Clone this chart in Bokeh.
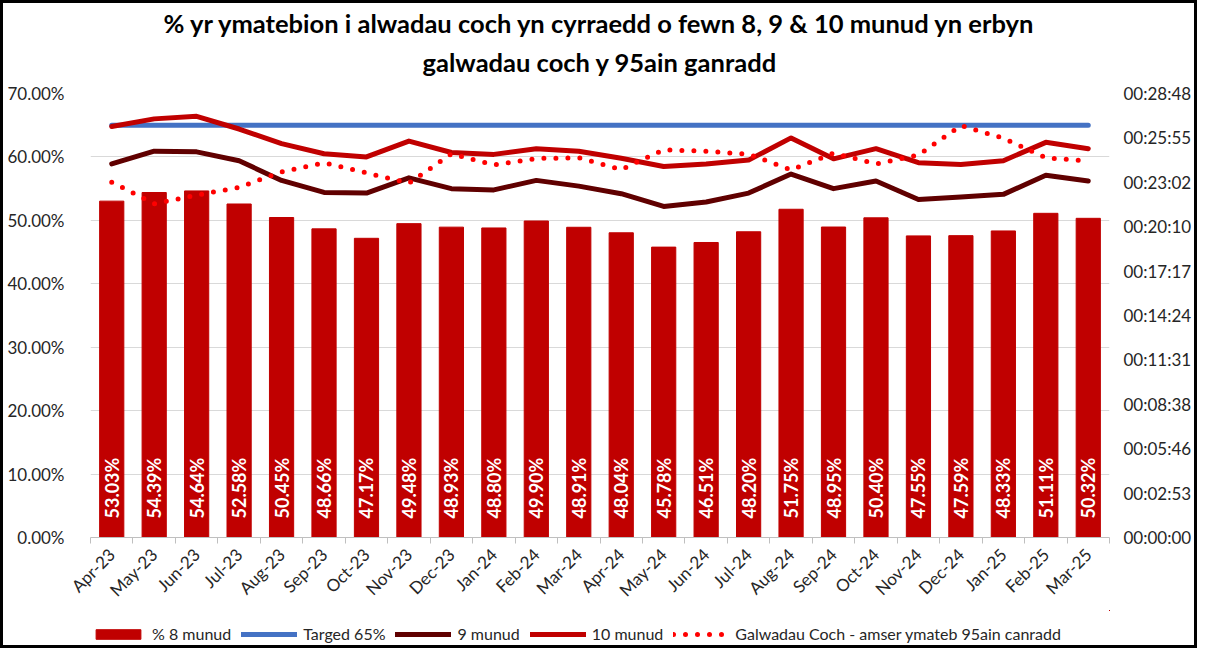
import math
from bokeh.plotting import figure
from bokeh.layouts import column
from bokeh.models import (Range1d, LinearAxis, FixedTicker, PrintfTickFormatter,
                          Legend, LegendItem, Title)
from bokeh.core.properties import value
from bokeh.embed import file_html
from bokeh.resources import INLINE

# ---------------- data ----------------
months = ["Apr-23", "May-23", "Jun-23", "Jul-23", "Aug-23", "Sep-23", "Oct-23", "Nov-23",
          "Dec-23", "Jan-24", "Feb-24", "Mar-24", "Apr-24", "May-24", "Jun-24", "Jul-24",
          "Aug-24", "Sep-24", "Oct-24", "Nov-24", "Dec-24", "Jan-25", "Feb-25", "Mar-25"]
pct_8_munud = [53.03, 54.39, 54.64, 52.58, 50.45, 48.66, 47.17, 49.48, 48.93, 48.80, 49.90, 48.91,
               48.04, 45.78, 46.51, 48.20, 51.75, 48.95, 50.40, 47.55, 47.59, 48.33, 51.11, 50.32]
targed_65 = [65.0, 65.0, 65.0, 65.0, 65.0, 65.0, 65.0, 65.0, 65.0, 65.0, 65.0, 65.0,
             65.0, 65.0, 65.0, 65.0, 65.0, 65.0, 65.0, 65.0, 65.0, 65.0, 65.0, 65.0]
pct_9_munud = [58.9, 60.9, 60.8, 59.4, 56.3, 54.4, 54.3, 56.7, 55.0, 54.8, 56.3, 55.4,
               54.2, 52.2, 52.9, 54.3, 57.3, 55.0, 56.2, 53.3, 53.7, 54.1, 57.1, 56.2]
pct_10_munud = [64.8, 66.0, 66.4, 64.4, 62.1, 60.5, 60.0, 62.5, 60.7, 60.4, 61.3, 60.9,
                59.8, 58.5, 58.9, 59.5, 63.0, 59.7, 61.3, 59.1, 58.8, 59.4, 62.3, 61.3]
amser_95 = ["00:23:03", "00:21:39", "00:22:12", "00:22:43", "00:23:43", "00:24:18",
            "00:23:39", "00:22:59", "00:24:53", "00:24:10", "00:24:35", "00:24:38",
            "00:23:52", "00:25:09", "00:25:03", "00:24:52", "00:23:51", "00:24:56",
            "00:24:14", "00:24:49", "00:26:43", "00:25:54", "00:24:38", "00:24:25"]
left_ticks = [0, 10, 20, 30, 40, 50, 60, 70]
right_tick_labels = ["00:00:00", "00:02:53", "00:05:46", "00:08:38", "00:11:31", "00:14:24",
                     "00:17:17", "00:20:10", "00:23:02", "00:25:55", "00:28:48"]
title_lines = ["% yr ymatebion i alwadau coch yn cyrraedd o fewn 8, 9 & 10 munud yn erbyn",
               "galwadau coch y 95ain ganradd"]
legend_labels = ["% 8 munud", "Targed 65%", "9 munud", "10 munud",
                 "Galwadau Coch - amser ymateb 95ain canradd"]


def to_seconds(s):
    h, m, sec = s.split(":")
    return int(h) * 3600 + int(m) * 60 + int(sec)


xs = [i + 0.5 for i in range(len(months))]
resp_secs = [to_seconds(s) for s in amser_95]
right_max = to_seconds(right_tick_labels[-1])
right_step = right_max / (len(right_tick_labels) - 1)
right_ticks = [round(i * right_step, 1) for i in range(len(right_tick_labels))]

FONT = "Lato"
TXT = "#262626"
BAR_C, TGT_C, C9, C10, DOT_C = "#C00000", "#4472C4", "#600000", "#C00000", "#FF0000"

W, H_MAIN, H_LEG = 1191, 607, 35

p = figure(width=W, height=H_MAIN, x_range=Range1d(0, len(months)), y_range=Range1d(0, 70),
           output_backend="svg", toolbar_location=None,
           min_border_left=87, min_border_right=78, min_border_top=90, min_border_bottom=73)
p.outline_line_color = None
p.background_fill_color = "white"
p.border_fill_color = "white"

# two centred title lines (second line added first -> closest to the frame)
p.add_layout(Title(text=title_lines[1], align="center", text_font=FONT, text_font_size="25.5px",
                   text_font_style="bold", text_color="black", standoff=33, offset=7), "above")
p.add_layout(Title(text=title_lines[0], align="center", text_font=FONT, text_font_size="25.5px",
                   text_font_style="bold", text_color="black", standoff=-19, offset=7), "above")

# x axis
xa = p.xaxis[0]
xa.ticker = FixedTicker(ticks=xs, minor_ticks=list(range(len(months) + 1)))
xa.major_label_overrides = {x: m for x, m in zip(xs, months)}
xa.major_tick_line_color = None
xa.minor_tick_line_color = "#BFBFBF"
xa.minor_tick_in = 0
xa.minor_tick_out = 6
xa.axis_line_color = "#BFBFBF"
xa.major_label_orientation = math.pi / 4
xa.major_label_text_font = FONT
xa.major_label_text_font_size = "17px"
xa.major_label_text_color = TXT
xa.major_label_standoff = 8
p.xgrid.visible = False

# left axis
ya = p.yaxis[0]
ya.ticker = FixedTicker(ticks=left_ticks)
ya.formatter = PrintfTickFormatter(format="%.2f%%")
ya.axis_line_color = None
ya.major_tick_line_color = None
ya.minor_tick_line_color = None
ya.major_label_standoff = 20
ya.major_label_text_font = FONT
ya.major_label_text_font_size = "17px"
ya.major_label_text_color = TXT
p.ygrid.ticker = FixedTicker(ticks=left_ticks)
p.ygrid.grid_line_color = "#D9D9D9"

# right axis
p.extra_y_ranges = {"t": Range1d(0, right_max)}
ra = LinearAxis(y_range_name="t", ticker=FixedTicker(ticks=right_ticks),
                major_label_overrides={t: l for t, l in zip(right_ticks, right_tick_labels)})
ra.axis_line_color = None
ra.major_tick_line_color = None
ra.minor_tick_line_color = None
ra.major_label_standoff = 8
ra.major_label_text_font = FONT
ra.major_label_text_font_size = "17px"
ra.major_label_text_color = TXT
p.add_layout(ra, "right")

# glyphs
bar_kw = dict(width=0.57, fill_color=BAR_C, line_color=BAR_C)
tgt_kw = dict(line_color=TGT_C, line_width=5, line_cap="round")
l9_kw = dict(line_color=C9, line_width=5, line_cap="round", line_join="round")
l10_kw = dict(line_color=C10, line_width=5, line_cap="round", line_join="round")
dot_kw = dict(line_color=DOT_C, line_width=5, line_dash="0 12", line_cap="round", line_join="round")

p.vbar(x=xs, top=pct_8_munud, **bar_kw)
p.text(x=xs, y=[3.0] * len(xs), text=[f"{v:.2f}%" for v in pct_8_munud], angle=math.pi / 2,
       text_align="left", text_baseline="middle", text_color="white",
       text_font=value(FONT), text_font_style="bold", text_font_size="18px")
p.line(xs, targed_65, **tgt_kw)
p.line(xs, pct_9_munud, **l9_kw)
p.line(xs, pct_10_munud, **l10_kw)
p.line(xs, resp_secs, y_range_name="t", **dot_kw)

# legend strip: same series & styles, ranges chosen so only the legend shows
q = figure(width=W, height=H_LEG, x_range=Range1d(-3, -2), y_range=Range1d(-3, -2),
           output_backend="svg", toolbar_location=None,
           x_axis_location=None, y_axis_location=None,
           min_border_left=0, min_border_right=0, min_border_top=0, min_border_bottom=0)
q.outline_line_color = None
q.xgrid.visible = False
q.ygrid.visible = False
q.background_fill_color = "white"
q.border_fill_color = "white"
sw = [q.vbar(x=xs, top=pct_8_munud, **bar_kw), q.line(xs, targed_65, **tgt_kw),
      q.line(xs, pct_9_munud, **l9_kw), q.line(xs, pct_10_munud, **l10_kw),
      q.line(xs, resp_secs, **dot_kw)]
legend = Legend(items=[LegendItem(label=l, renderers=[r]) for l, r in zip(legend_labels, sw)],
                orientation="horizontal", location=(0, 2),
                glyph_width=56, glyph_height=12, spacing=10, label_standoff=6,
                border_line_color=None, background_fill_alpha=0,
                label_text_font=FONT, label_text_font_size="16px", label_text_color=TXT,
                padding=0, margin=0)
q.add_layout(legend, "center")

lay = column(p, q, spacing=0)
lay.styles = {"border": "3px solid black", "box-sizing": "content-box", "background": "white"}

open("out.html", "w").write(file_html(lay, INLINE))
